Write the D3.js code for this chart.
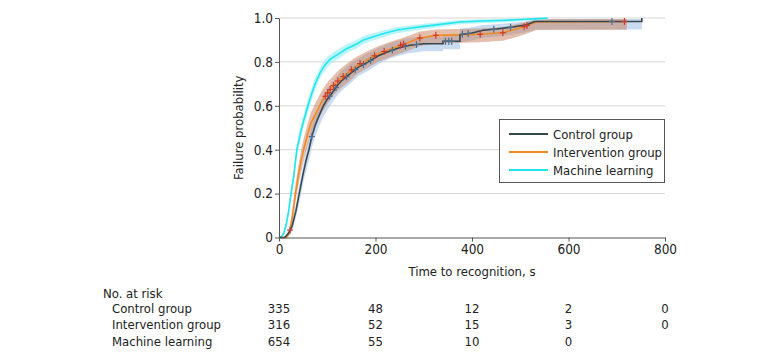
<!DOCTYPE html>
<html lang="en">

<head>
    <meta charset="utf-8">
    <script src="https://d3js.org/d3.v7.min.js"></script>
    <style>
        body { margin: 0; background: #fff; }
        svg text { font-family: "Liberation Sans Narrow", "DejaVu Sans Condensed", sans-serif; fill: #222; }
    </style>
</head>

<body>
    <div class="chart"></div>

    <script>
        // data
        const groups = ["Control group", "Intervention group", "Machine learning"];

        // control group: time (s) and failure probability, with CI band
        const controlT = [0, 12, 20, 27, 35, 42, 50, 56, 62, 68, 75, 84, 92, 100, 109, 120, 130, 147, 164, 185,
            206, 230, 251, 271, 300, 340, 340, 375, 375, 400, 423, 450, 485, 513, 530, 752, 752];
        const controlP = [0, 0, 0.02, 0.05, 0.12, 0.2, 0.29, 0.35, 0.4, 0.46, 0.51, 0.56, 0.6, 0.63, 0.655, 0.69, 0.715, 0.745, 0.775, 0.8,
            0.828, 0.85, 0.866, 0.876, 0.883, 0.883, 0.894, 0.894, 0.924, 0.932, 0.944, 0.95, 0.959, 0.969, 0.984, 0.984, 1.0];
        const controlLo = [0, 0, 0.008, 0.03, 0.09, 0.16, 0.25, 0.3, 0.35, 0.41, 0.46, 0.51, 0.55, 0.58, 0.61, 0.645, 0.67, 0.7, 0.735, 0.76,
            0.79, 0.815, 0.83, 0.84, 0.848, 0.848, 0.858, 0.858, 0.888, 0.897, 0.91, 0.915, 0.925, 0.935, 0.948, 0.948, 0.948];
        const controlHi = [0, 0, 0.035, 0.075, 0.15, 0.24, 0.33, 0.4, 0.45, 0.51, 0.56, 0.61, 0.65, 0.68, 0.7, 0.735, 0.76, 0.79, 0.815, 0.84,
            0.865, 0.885, 0.9, 0.91, 0.915, 0.915, 0.925, 0.925, 0.952, 0.958, 0.968, 0.972, 0.978, 0.985, 0.995, 0.995, 1.0];
        const controlCensor = [68, 105, 118, 140, 158, 175, 190, 235, 262, 285, 345, 352, 358, 380, 392, 445, 480, 690];

        // intervention group
        const interT = [0, 15, 20, 23, 28, 34, 40, 46, 51, 58, 66, 75, 82, 89, 98, 108, 118, 128, 145, 162,
            183, 204, 228, 251, 270, 292, 325, 417, 464, 506, 534, 721];
        const interP = [0, 0, 0.015, 0.034, 0.1, 0.2, 0.28, 0.35, 0.4, 0.46, 0.52, 0.56, 0.59, 0.62, 0.65, 0.68, 0.705, 0.725, 0.755, 0.785,
            0.81, 0.835, 0.857, 0.875, 0.89, 0.909, 0.921, 0.926, 0.933, 0.959, 0.982, 0.984];
        const interLo = [0, 0, 0.005, 0.018, 0.07, 0.16, 0.235, 0.3, 0.35, 0.41, 0.47, 0.51, 0.54, 0.57, 0.6, 0.635, 0.66, 0.68, 0.71, 0.745,
            0.772, 0.798, 0.82, 0.838, 0.853, 0.872, 0.884, 0.889, 0.896, 0.922, 0.945, 0.947];
        const interHi = [0, 0, 0.03, 0.055, 0.13, 0.24, 0.325, 0.4, 0.45, 0.51, 0.57, 0.61, 0.64, 0.67, 0.7, 0.725, 0.75, 0.77, 0.8, 0.825,
            0.848, 0.87, 0.89, 0.905, 0.92, 0.938, 0.948, 0.952, 0.958, 0.978, 0.994, 0.995];
        const interCensor = [23, 96, 101, 106, 113, 122, 133, 150, 168, 198, 218, 252, 258, 292, 325, 417, 464, 508, 514, 716];

        // machine learning
        const mlT = [0, 5, 10, 15, 20, 25, 30, 37, 45, 52, 60, 67, 75, 85, 95, 105, 115, 126, 140, 160,
            175, 200, 225, 245, 270, 300, 330, 375, 420, 470, 510, 535, 557];
        const mlP = [0, 0.005, 0.02, 0.06, 0.12, 0.2, 0.27, 0.4, 0.48, 0.54, 0.6, 0.65, 0.7, 0.75, 0.785, 0.81, 0.825, 0.84, 0.86, 0.88,
            0.9, 0.918, 0.934, 0.945, 0.953, 0.962, 0.97, 0.982, 0.986, 0.99, 0.994, 0.997, 1.0];
        const mlLo = [0, 0, 0.01, 0.045, 0.1, 0.175, 0.245, 0.37, 0.45, 0.51, 0.57, 0.62, 0.672, 0.725, 0.76, 0.787, 0.803, 0.818, 0.84, 0.861,
            0.882, 0.901, 0.918, 0.93, 0.939, 0.949, 0.958, 0.971, 0.976, 0.981, 0.986, 0.99, 0.994];
        const mlHi = [0, 0.01, 0.03, 0.075, 0.14, 0.225, 0.295, 0.43, 0.51, 0.57, 0.63, 0.68, 0.728, 0.775, 0.81, 0.833, 0.847, 0.862, 0.88, 0.899,
            0.918, 0.934, 0.949, 0.959, 0.966, 0.974, 0.981, 0.991, 0.994, 0.996, 0.998, 0.999, 1.0];

        // axis ticks and number at risk table
        const xTicks = [0, 200, 400, 600, 800];
        const yTicks = [0, 0.2, 0.4, 0.6, 0.8, 1.0];
        const riskControl = [335, 48, 12, 2, 0];
        const riskInter = [316, 52, 15, 3, 0];
        const riskML = [654, 55, 10, 0];

        const width = 780;
        const height = 360;
        const plot = { left: 279, right: 665, top: 18, bottom: 237.5 };

        const x = d3.scaleLinear().domain([0, 800]).range([plot.left, plot.right]);
        const y = d3.scaleLinear().domain([0, 1]).range([plot.bottom, plot.top]);

        const svg = d3.select(".chart").append("svg")
            .attr("width", width)
            .attr("height", height);

        // gridlines
        svg.append("g").selectAll("line")
            .data(yTicks.filter(d => d > 0))
            .enter()
            .append("line")
            .attr("x1", plot.left)
            .attr("x2", plot.right)
            .attr("y1", d => y(d))
            .attr("y2", d => y(d))
            .attr("stroke", "#d6d6d6")
            .attr("stroke-width", 1);

        // series setup
        const series = [
            { name: groups[0], t: controlT, p: controlP, lo: controlLo, hi: controlHi, censor: controlCensor,
              line: "#34494f", band: "#b7cfec", bandOpacity: 0.75, mark: "#4f6d8e" },
            { name: groups[1], t: interT, p: interP, lo: interLo, hi: interHi, censor: interCensor,
              line: "#f28a22", band: "#c9805e", bandOpacity: 0.5, mark: "#cf3a2e" },
            { name: groups[2], t: mlT, p: mlP, lo: mlLo, hi: mlHi, censor: [],
              line: "#1fe6ef", band: "#9ff0f5", bandOpacity: 0.7, mark: "#1fe6ef" }
        ];

        const area = d3.area()
            .x(d => x(d.t))
            .y0(d => y(d.lo))
            .y1(d => y(d.hi));

        const line = d3.line()
            .x(d => x(d.t))
            .y(d => y(d.p));

        const rows = s => s.t.map((t, i) => ({ t: t, p: s.p[i], lo: s.lo[i], hi: s.hi[i] }));

        // confidence bands
        series.forEach(s => {
            svg.append("path")
                .datum(rows(s))
                .attr("d", area)
                .attr("fill", s.band)
                .attr("fill-opacity", s.bandOpacity);
        });

        // curves: machine learning, intervention, then control on top
        [series[2], series[1], series[0]].forEach(s => {
            svg.append("path")
                .datum(rows(s))
                .attr("d", line)
                .attr("fill", "none")
                .attr("stroke", s.line)
                .attr("stroke-width", 1.6);
        });

        // censoring marks placed on their curve
        const valueAt = (s, t) => {
            let i = d3.bisectRight(s.t, t) - 1;
            i = Math.max(0, Math.min(i, s.t.length - 2));
            const t0 = s.t[i], t1 = s.t[i + 1];
            const k = t1 === t0 ? 1 : (t - t0) / (t1 - t0);
            return s.p[i] + (s.p[i + 1] - s.p[i]) * Math.min(1, Math.max(0, k));
        };

        series.forEach(s => {
            const g = svg.append("g")
                .attr("stroke", s.mark)
                .attr("stroke-width", 1.2);
            s.censor.forEach(t => {
                const cx = x(t), cy = y(valueAt(s, t));
                g.append("line").attr("x1", cx - 3).attr("x2", cx + 3).attr("y1", cy).attr("y2", cy);
                g.append("line").attr("x1", cx).attr("x2", cx).attr("y1", cy - 3.5).attr("y2", cy + 3.5);
            });
        });

        // axes
        const xAxis = svg.append("g")
            .attr("transform", "translate(0," + plot.bottom + ")")
            .call(d3.axisBottom(x).tickValues(xTicks).tickSize(4).tickSizeOuter(0).tickPadding(3));
        const yAxis = svg.append("g")
            .attr("transform", "translate(" + plot.left + ",0)")
            .call(d3.axisLeft(y).tickValues(yTicks).tickSize(4).tickSizeOuter(0).tickPadding(2)
                .tickFormat(d => d === 0 ? "0" : d.toFixed(1)));

        [xAxis, yAxis].forEach(a => {
            a.selectAll("path, line").attr("stroke", "#555");
            a.selectAll("text")
                .style("font-family", "Liberation Sans Narrow, DejaVu Sans Condensed, sans-serif")
                .style("font-size", "13.5px")
                .attr("fill", "#222");
        });

        // axis titles
        svg.append("text")
            .attr("x", x(400))
            .attr("y", 276)
            .attr("text-anchor", "middle")
            .style("font-size", "13px")
            .text("Time to recognition, s");

        svg.append("text")
            .attr("transform", "translate(243," + y(0.5) + ") rotate(-90)")
            .attr("text-anchor", "middle")
            .style("font-size", "13px")
            .text("Failure probability");

        // legend
        const legend = svg.append("g");
        legend.append("rect")
            .attr("x", 499.5)
            .attr("y", 119.5)
            .attr("width", 165)
            .attr("height", 63)
            .attr("fill", "#fff")
            .attr("stroke", "#555");
        series.forEach((s, i) => {
            legend.append("line")
                .attr("x1", 509)
                .attr("x2", 548)
                .attr("y1", 134 + i * 18)
                .attr("y2", 134 + i * 18)
                .attr("stroke", s.line)
                .attr("stroke-width", 2);
            legend.append("text")
                .attr("x", 553)
                .attr("y", 134 + i * 18)
                .attr("dy", "0.35em")
                .style("font-size", "13px")
                .text(s.name);
        });

        // number at risk table
        const risk = [riskControl, riskInter, riskML];
        svg.append("text")
            .attr("x", 103)
            .attr("y", 293)
            .attr("dy", "0.35em")
            .style("font-size", "13px")
            .text("No. at risk");

        risk.forEach((r, i) => {
            const rowY = 308 + i * 16.5;
            svg.append("text")
                .attr("x", 112)
                .attr("y", rowY)
                .attr("dy", "0.35em")
                .style("font-size", "13px")
                .text(groups[i]);
            svg.append("g").selectAll("text")
                .data(r)
                .enter()
                .append("text")
                .attr("x", (d, j) => x(xTicks[j]))
                .attr("y", rowY)
                .attr("dy", "0.35em")
                .attr("text-anchor", "middle")
                .style("font-size", "13px")
                .text(d => d);
        });
    </script>
</body>

</html>
